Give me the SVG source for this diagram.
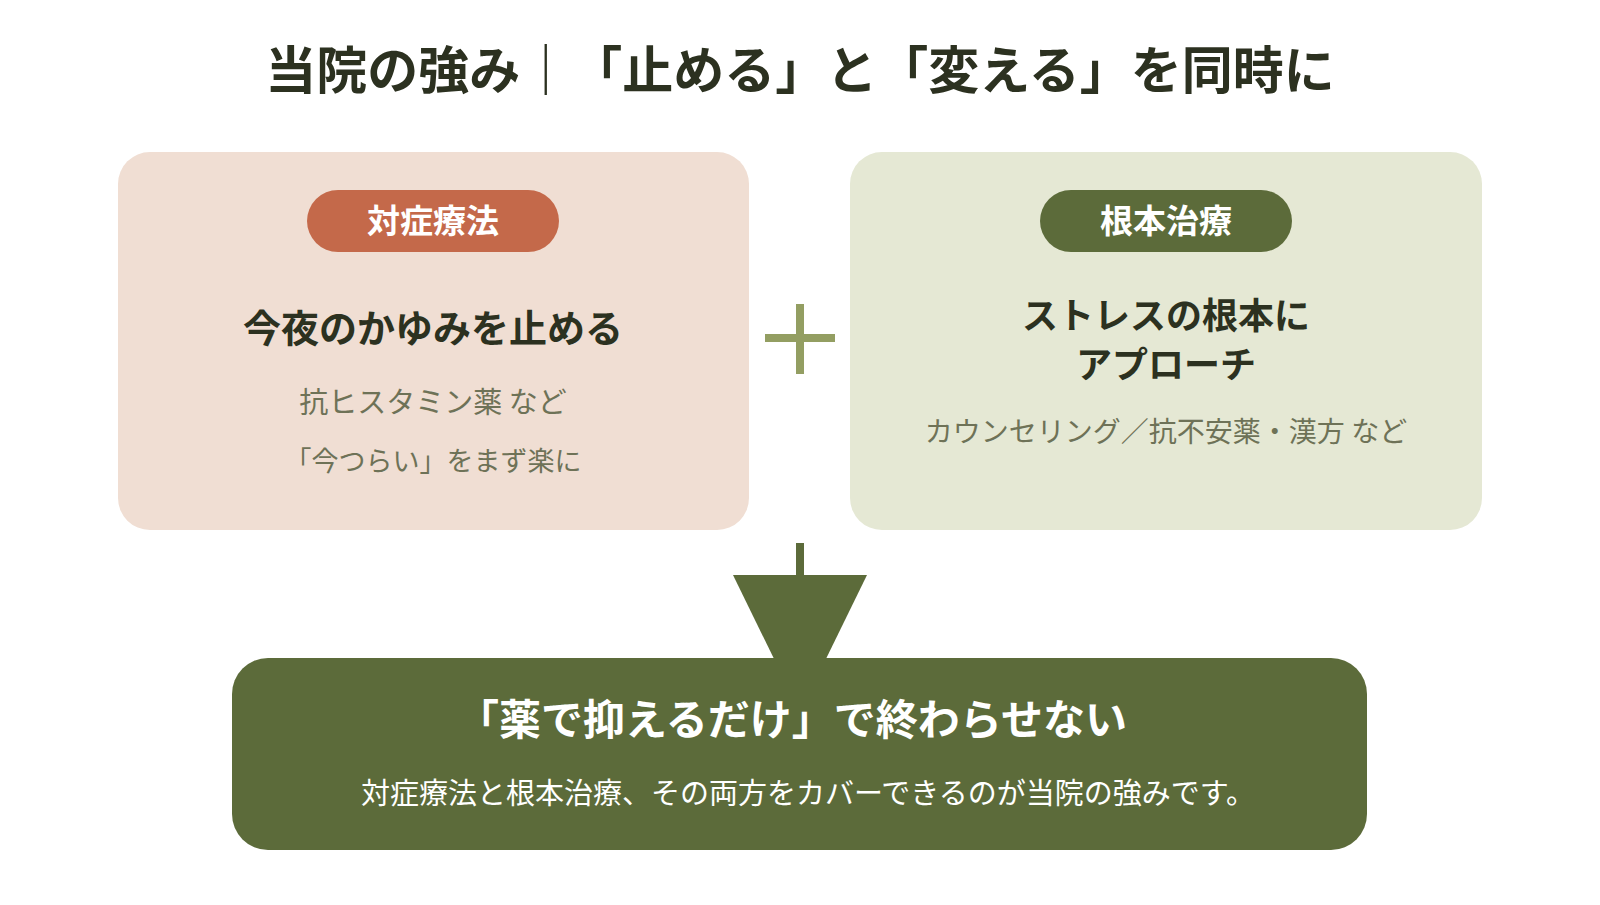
<svg xmlns="http://www.w3.org/2000/svg" width="1600" height="905" viewBox="0 0 1600 905">
<style>
text{font-family:"Noto Sans CJK JP","Noto Sans CJK SC",sans-serif;text-anchor:middle}
.title{font-size:51px;font-weight:700;fill:#2C3120}
.badge{font-size:33px;font-weight:700;fill:#ffffff}
.head{font-size:36px;font-weight:700;fill:#2C3120}
.headL{font-size:38px;font-weight:700;fill:#2C3120}
.sub{font-size:28px;fill:#6E7257}
.subL{font-size:29px;fill:#6E7257}
.sub2{font-size:27px;fill:#6E7257}
.btitle{font-size:42px;font-weight:700;fill:#ffffff}
.bsub{font-size:29px;fill:#ffffff}
</style>
<rect width="1600" height="905" fill="#ffffff"/>
<g id="title"><text class="title" x="800" y="89">当院の強み｜「止める」と「変える」を同時に</text></g>
<g id="card-left">
<rect x="118" y="152" width="631" height="378" rx="32" fill="#F0DED3"/>
<rect x="307" y="190" width="252" height="62" rx="31" fill="#C4694A"/>
<text class="badge" x="433" y="233">対症療法</text>
<text class="headL" x="433" y="342">今夜のかゆみを止める</text>
<text class="subL" x="433" y="413">抗ヒスタミン薬 など</text>
<text class="sub2" x="433" y="471">「今つらい」をまず楽に</text>
</g>
<g id="card-right">
<rect x="850" y="152" width="632" height="378" rx="32" fill="#E5E8D4"/>
<rect x="1040" y="190" width="252" height="62" rx="31" fill="#5C6B3A"/>
<text class="badge" x="1166" y="233">根本治療</text>
<text class="head" x="1166" y="329">ストレスの根本に</text>
<text class="head" x="1166" y="378">アプローチ</text>
<text class="sub" x="1166" y="442">カウンセリング／抗不安薬・漢方 など</text>
</g>
<g id="plus" fill="#939E62">
<rect x="765" y="334" width="70" height="8"/>
<rect x="796" y="304" width="8" height="70"/>
</g>
<g id="connectors" fill="#5C6B3A">
<rect x="796" y="543" width="8" height="34"/>
<polygon points="733,575 867,575 800,712"/>
</g>
<g id="result">
<rect x="232" y="658" width="1135" height="192" rx="36" fill="#5C6B3A"/>
<text class="btitle" x="792" y="735">「薬で抑えるだけ」で終わらせない</text>
<text class="bsub" x="808" y="804">対症療法と根本治療、その両方をカバーできるのが当院の強みです。</text>
</g>
</svg>
